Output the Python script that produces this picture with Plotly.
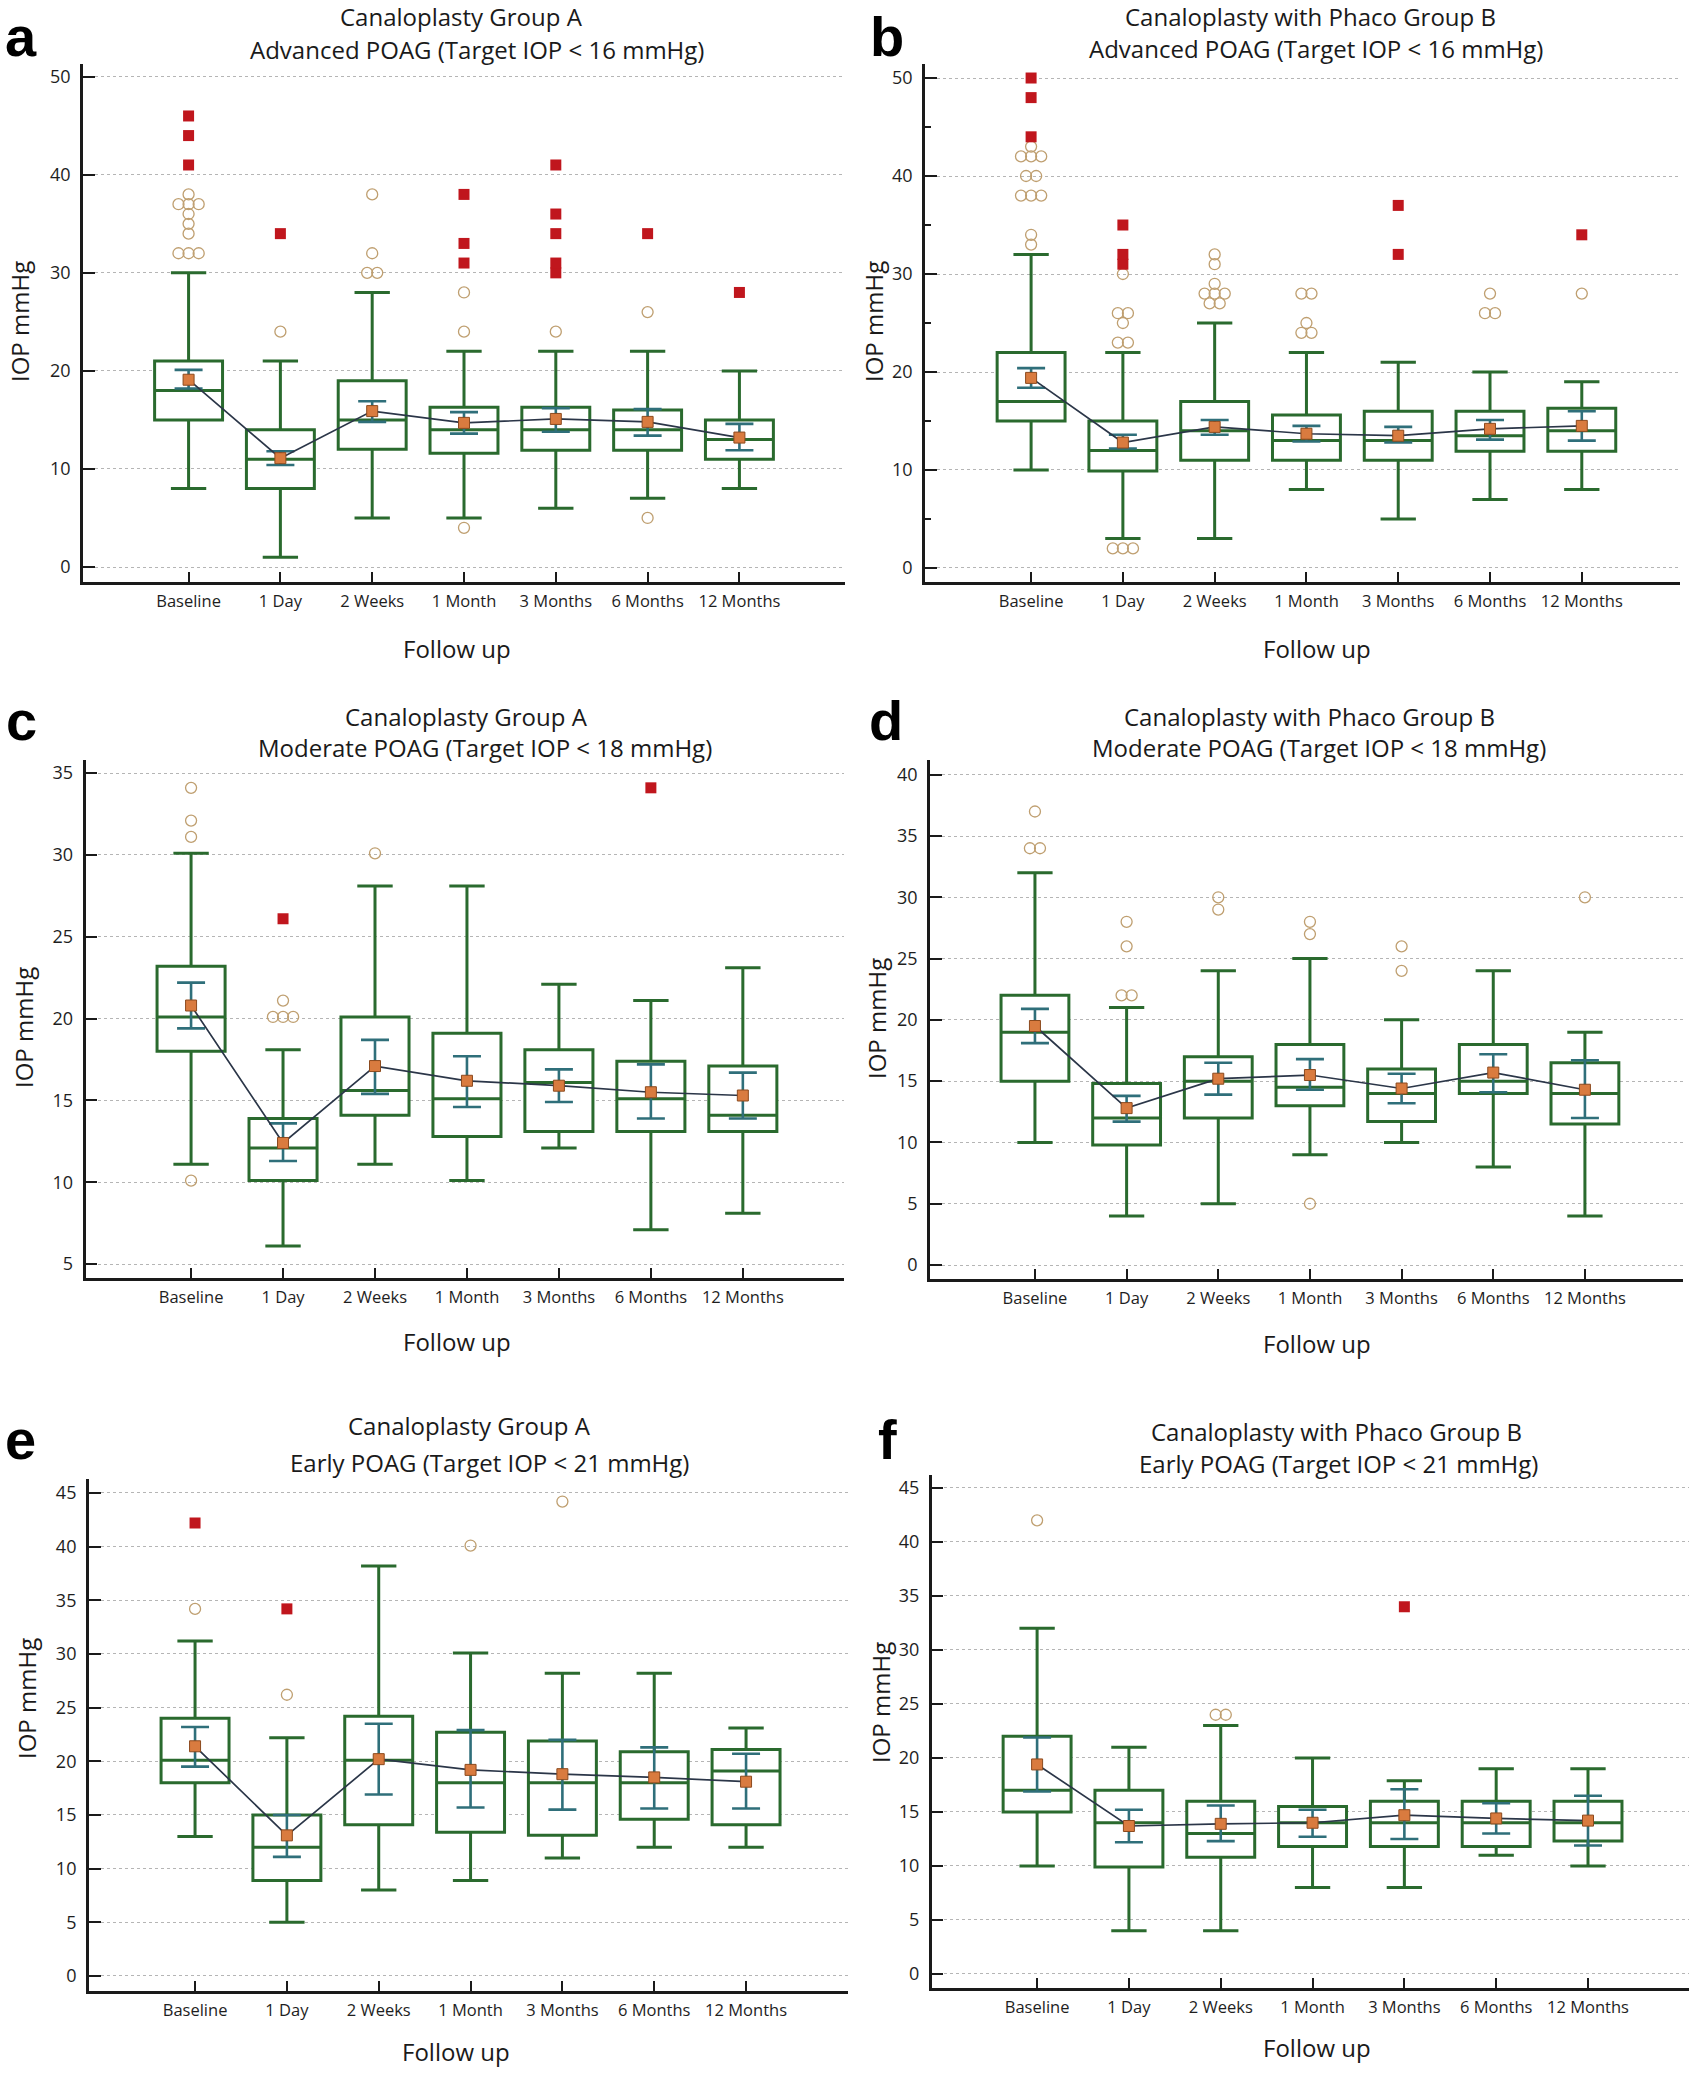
import plotly.graph_objects as go

W, H = 1701, 2077

CATS = ["Baseline", "1 Day", "2 Weeks", "1 Month", "3 Months", "6 Months", "12 Months"]

# ---- Panel a : Canaloplasty Group A, Advanced POAG ----
A_LO = [8, 1, 5, 5, 6, 7, 8]
A_Q1 = [15, 8, 12, 11.6, 11.9, 11.9, 11]
A_MED = [18, 11, 15, 14, 14, 14, 13]
A_Q3 = [21, 14, 19, 16.3, 16.3, 16, 15]
A_HI = [30, 21, 28, 22, 22, 22, 20]
A_MEAN = [19.1, 11.1, 15.9, 14.7, 15.1, 14.8, 13.2]
A_CI_LO = [18.2, 10.4, 14.8, 13.6, 13.8, 13.4, 11.9]
A_CI_HI = [20.1, 11.8, 16.9, 15.8, 16.2, 16.1, 14.6]
A_OUT = [[32, 32, 32, 34, 35, 36, 37, 37, 37, 38], [24], [30, 30, 32, 38], [4, 24, 28], [24], [5, 26], []]
A_FAR = [[41, 44, 46], [34], [], [31, 33, 38], [30, 31, 34, 36, 41], [34], [28]]

# ---- Panel b : Canaloplasty with Phaco Group B, Advanced POAG ----
B_LO = [10, 3, 3, 8, 5, 7, 8]
B_Q1 = [15, 9.9, 11, 11, 11, 11.9, 11.9]
B_MED = [17, 12, 14, 13, 13, 13.5, 14]
B_Q3 = [22, 15, 17, 15.6, 16, 16, 16.3]
B_HI = [32, 22, 25, 22, 21, 20, 19]
B_MEAN = [19.4, 12.8, 14.4, 13.7, 13.5, 14.2, 14.5]
B_CI_LO = [18.4, 12.2, 13.6, 12.9, 12.8, 13.1, 13.0]
B_CI_HI = [20.4, 13.6, 15.1, 14.5, 14.4, 15.1, 16.0]
B_OUT = [[33, 34, 38, 38, 38, 40, 40, 42, 42, 42, 43], [2, 2, 2, 23, 23, 25, 26, 26, 30],
         [27, 27, 28, 28, 28, 29, 31, 32], [24, 24, 25, 28, 28], [], [26, 26, 28], [28]]
B_FAR = [[44, 48, 50], [31, 32, 35], [], [], [32, 37], [], [34]]

# ---- Panel c : Canaloplasty Group A, Moderate POAG ----
C_LO = [11.1, 6.1, 11.1, 10.1, 12.1, 7.1, 8.1]
C_Q1 = [18.0, 10.1, 14.1, 12.8, 13.1, 13.1, 13.1]
C_MED = [20.1, 12.1, 15.6, 15.1, 16.1, 15.1, 14.1]
C_Q3 = [23.2, 13.9, 20.1, 19.1, 18.1, 17.4, 17.1]
C_HI = [30.1, 18.1, 28.1, 28.1, 22.1, 21.1, 23.1]
C_MEAN = [20.8, 12.4, 17.1, 16.2, 15.9, 15.5, 15.3]
C_CI_LO = [19.4, 11.3, 15.4, 14.6, 14.9, 13.9, 13.9]
C_CI_HI = [22.2, 13.6, 18.7, 17.7, 16.9, 17.2, 16.7]
C_OUT = [[10.1, 31.1, 32.1, 34.1], [20.1, 20.1, 20.1, 21.1], [30.1], [], [], [], []]
C_FAR = [[], [26.1], [], [], [], [34.1], []]

# ---- Panel d : Canaloplasty with Phaco Group B, Moderate POAG ----
D_LO = [10, 4, 5, 9, 10, 8, 4]
D_Q1 = [15, 9.8, 12, 13, 11.7, 14, 11.5]
D_MED = [19, 12, 15, 14.5, 14, 15, 14]
D_Q3 = [22, 14.8, 17, 18, 16, 18, 16.5]
D_HI = [32, 21, 24, 25, 20, 24, 19]
D_MEAN = [19.5, 12.8, 15.2, 15.5, 14.4, 15.7, 14.3]
D_CI_LO = [18.1, 11.7, 13.9, 14.3, 13.2, 14.1, 12.0]
D_CI_HI = [20.9, 13.8, 16.5, 16.8, 15.6, 17.2, 16.7]
D_OUT = [[34, 34, 37], [22, 22, 26, 28], [29, 30], [5, 27, 28], [24, 26], [], [30]]
D_FAR = [[], [], [], [], [], [], []]

# ---- Panel e : Canaloplasty Group A, Early POAG ----
E_LO = [13, 5, 8, 8.9, 11, 12, 12]
E_Q1 = [18, 8.9, 14.1, 13.4, 13.1, 14.6, 14.1]
E_MED = [20.1, 12, 20.1, 18, 18, 18, 19.1]
E_Q3 = [24, 15, 24.2, 22.7, 21.9, 20.9, 21.1]
E_HI = [31.2, 22.2, 38.2, 30.1, 28.2, 28.2, 23.1]
E_MEAN = [21.4, 13.1, 20.2, 19.2, 18.8, 18.5, 18.1]
E_CI_LO = [19.5, 11.1, 16.9, 15.7, 15.5, 15.6, 15.6]
E_CI_HI = [23.2, 15.0, 23.5, 22.9, 22.0, 21.3, 20.7]
E_OUT = [[34.2], [26.2], [], [40.1], [44.2], [], []]
E_FAR = [[42.2], [34.2], [], [], [], [], []]

# ---- Panel f : Canaloplasty with Phaco Group B, Early POAG ----
F_LO = [10, 4, 4, 8, 8, 11, 10]
F_Q1 = [15, 9.9, 10.8, 11.8, 11.8, 11.8, 12.3]
F_MED = [17, 14, 13, 14, 14, 14, 14]
F_Q3 = [22, 17, 16, 15.5, 16, 16, 16]
F_HI = [32, 21, 23, 20, 17.9, 19, 19]
F_MEAN = [19.4, 13.7, 13.9, 14.0, 14.7, 14.4, 14.2]
F_CI_LO = [16.9, 12.2, 12.3, 12.7, 12.5, 13.0, 11.9]
F_CI_HI = [21.9, 15.2, 15.6, 15.2, 17.1, 15.8, 16.5]
F_OUT = [[42], [], [24, 24], [], [], [], []]
F_FAR = [[], [], [], [], [34], [], []]

TITLES = {
    "a": ("Canaloplasty Group A", "Advanced POAG (Target IOP < 16 mmHg)"),
    "b": ("Canaloplasty with Phaco Group B", "Advanced POAG (Target IOP < 16 mmHg)"),
    "c": ("Canaloplasty Group A", "Moderate POAG (Target IOP < 18 mmHg)"),
    "d": ("Canaloplasty with Phaco Group B", "Moderate POAG (Target IOP < 18 mmHg)"),
    "e": ("Canaloplasty Group A", "Early POAG (Target IOP < 21 mmHg)"),
    "f": ("Canaloplasty with Phaco Group B", "Early POAG (Target IOP < 21 mmHg)"),
}

DATA = {
    "a": (A_LO, A_Q1, A_MED, A_Q3, A_HI, A_MEAN, A_CI_LO, A_CI_HI, A_OUT, A_FAR),
    "b": (B_LO, B_Q1, B_MED, B_Q3, B_HI, B_MEAN, B_CI_LO, B_CI_HI, B_OUT, B_FAR),
    "c": (C_LO, C_Q1, C_MED, C_Q3, C_HI, C_MEAN, C_CI_LO, C_CI_HI, C_OUT, C_FAR),
    "d": (D_LO, D_Q1, D_MED, D_Q3, D_HI, D_MEAN, D_CI_LO, D_CI_HI, D_OUT, D_FAR),
    "e": (E_LO, E_Q1, E_MED, E_Q3, E_HI, E_MEAN, E_CI_LO, E_CI_HI, E_OUT, E_FAR),
    "f": (F_LO, F_Q1, F_MED, F_Q3, F_HI, F_MEAN, F_CI_LO, F_CI_HI, F_OUT, F_FAR),
}

# layout geometry (page pixels) : plot x-span, y-span, axis ranges, dtick
GEOM = {
    "a": dict(xpx=(83, 845), ypx=(64, 582), xr=(-1.15, 7.15), yr=(-1.53, 51.3), dtick=10, minor=False),
    "b": dict(xpx=(925, 1680), ypx=(64, 582), xr=(-1.156, 7.07), yr=(-1.43, 51.43), dtick=10, minor=True),
    "c": dict(xpx=(85.5, 844), ypx=(760, 1278), xr=(-1.148, 7.1), yr=(4.15, 35.8), dtick=5, minor=False),
    "d": dict(xpx=(930, 1683), ypx=(760, 1279), xr=(-1.145, 7.07), yr=(-1.14, 41.2), dtick=5, minor=False),
    "e": dict(xpx=(88.8, 848), ypx=(1479, 1991), xr=(-1.157, 7.11), yr=(-1.4, 46.3), dtick=5, minor=False),
    "f": dict(xpx=(931.7, 1689), ypx=(1475, 1988), xr=(-1.148, 7.1), yr=(-1.3, 46.2), dtick=5, minor=False),
}
# title line centers, y-title, x-title, panel letter (page pixels)
TEXTPOS = {
    "a": dict(t1=(461, 16), t2=(477, 50), yt=(19, 322), xt=(457, 648), lab=(3, 36)),
    "b": dict(t1=(1310, 16), t2=(1316, 48), yt=(873, 322), xt=(1317, 648), lab=(868, 36)),
    "c": dict(t1=(466, 716), t2=(485, 747), yt=(23, 1028), xt=(457, 1341), lab=(4, 721)),
    "d": dict(t1=(1309, 716), t2=(1319, 748), yt=(876, 1019), xt=(1317, 1343), lab=(867, 721)),
    "e": dict(t1=(469, 1425), t2=(489, 1462), yt=(26, 1699), xt=(456, 2051), lab=(3, 1439)),
    "f": dict(t1=(1336, 1431), t2=(1338, 1463), yt=(880, 1703), xt=(1317, 2047), lab=(876, 1439)),
}

GREEN = "#2a6a2e"
TEAL = "#2f6f7a"
ORANGE = "#d97b3f"
ORANGE_EDGE = "#8c4a1e"
NAVY = "#2b3648"
TAN = "#bf9f70"
RED = "#c0161d"
FONT = "Open Sans"


def X(px):
    return px / W


def Y(px):
    return 1 - px / H


def spread(groups, step=0.11):
    xs, ys = [], []
    for i, vals in enumerate(groups):
        counts = {}
        for v in vals:
            counts[v] = counts.get(v, 0) + 1
        for v, n in counts.items():
            for k in range(n):
                xs.append(i + (k - (n - 1) / 2) * step)
                ys.append(v)
    return xs, ys


fig = go.Figure()
annotations = []
layout_axes = {}
pos = list(range(len(CATS)))

for idx, key in enumerate(["a", "b", "c", "d", "e", "f"]):
    n = idx + 1
    xa = "x" if n == 1 else f"x{n}"
    ya = "y" if n == 1 else f"y{n}"
    lo, q1, med, q3, hi, mean, cil, cih, out, far = DATA[key]
    g = GEOM[key]

    fig.add_trace(go.Box(
        x=pos, q1=q1, median=med, q3=q3, lowerfence=lo, upperfence=hi,
        boxpoints=False, width=0.74, whiskerwidth=0.52,
        fillcolor="white", line=dict(color=GREEN, width=3),
        xaxis=xa, yaxis=ya, showlegend=False, hoverinfo="skip"))

    fig.add_trace(go.Scatter(
        x=pos, y=mean, mode="markers", marker=dict(size=1, opacity=0),
        error_y=dict(type="data", symmetric=False,
                     array=[h - m for h, m in zip(cih, mean)],
                     arrayminus=[m - l for m, l in zip(mean, cil)],
                     color=TEAL, thickness=2.6, width=14),
        xaxis=xa, yaxis=ya, showlegend=False, hoverinfo="skip"))

    ox, oy = spread(out)
    fig.add_trace(go.Scatter(
        x=ox, y=oy, mode="markers",
        marker=dict(symbol="circle-open", size=11, color=TAN, line=dict(width=1.3)),
        xaxis=xa, yaxis=ya, showlegend=False, hoverinfo="skip"))

    fx, fy = spread(far)
    fig.add_trace(go.Scatter(
        x=fx, y=fy, mode="markers",
        marker=dict(symbol="square", size=11, color=RED, line=dict(width=0)),
        xaxis=xa, yaxis=ya, showlegend=False, hoverinfo="skip"))

    fig.add_trace(go.Scatter(
        x=pos, y=mean, mode="lines+markers",
        line=dict(color=NAVY, width=1.7),
        marker=dict(symbol="square", size=11, color=ORANGE, line=dict(color=ORANGE_EDGE, width=1)),
        xaxis=xa, yaxis=ya, showlegend=False, hoverinfo="skip"))

    xname = "xaxis" if n == 1 else f"xaxis{n}"
    yname = "yaxis" if n == 1 else f"yaxis{n}"
    layout_axes[xname] = dict(
        domain=[X(g["xpx"][0]), X(g["xpx"][1])], range=list(g["xr"]), anchor=ya,
        tickmode="array", tickvals=pos, ticktext=CATS,
        showline=True, linecolor="#1a1a1a", linewidth=2.5, mirror=False,
        ticks="inside", ticklen=10, tickwidth=1.5, tickcolor="#1a1a1a",
        showgrid=False, zeroline=False, ticklabelstandoff=2,
        tickfont=dict(family=FONT, size=16.5, color="#1e1e1e"))
    yax = dict(
        domain=[Y(g["ypx"][1]), Y(g["ypx"][0])], range=list(g["yr"]), anchor=xa,
        tick0=0, dtick=g["dtick"],
        showline=True, linecolor="#1a1a1a", linewidth=2.5,
        ticks="inside", ticklen=12, tickwidth=1.5, tickcolor="#1a1a1a",
        showgrid=True, gridcolor="#b5b5b5", griddash="dot", gridwidth=1,
        zeroline=False, ticklabelstandoff=6,
        tickfont=dict(family=FONT, size=18, color="#1e1e1e"))
    if g["minor"]:
        yax["minor"] = dict(dtick=5, ticks="inside", ticklen=6, tickcolor="#1a1a1a", showgrid=False)
    layout_axes[yname] = yax

    tp = TEXTPOS[key]
    t1, t2 = TITLES[key]
    for txt, p in ((t1, tp["t1"]), (t2, tp["t2"])):
        annotations.append(dict(text=txt, x=X(p[0]), y=Y(p[1]), xref="paper", yref="paper",
                                xanchor="center", yanchor="middle", showarrow=False,
                                font=dict(family=FONT, size=24, color="#1a1a1a")))
    annotations.append(dict(text="IOP mmHg", x=X(tp["yt"][0]), y=Y(tp["yt"][1]), xref="paper", yref="paper",
                            xanchor="center", yanchor="middle", showarrow=False, textangle=-90,
                            font=dict(family=FONT, size=24, color="#1a1a1a")))
    annotations.append(dict(text="Follow up", x=X(tp["xt"][0]), y=Y(tp["xt"][1]), xref="paper", yref="paper",
                            xanchor="center", yanchor="middle", showarrow=False,
                            font=dict(family=FONT, size=24, color="#1a1a1a")))
    annotations.append(dict(text="<b>%s</b>" % key, x=X(tp["lab"][0]), y=Y(tp["lab"][1]), xref="paper",
                            yref="paper", xanchor="left", yanchor="middle", showarrow=False,
                            font=dict(family="Liberation Sans", size=56, color="#000")))

fig.update_layout(
    width=W, height=H, margin=dict(l=0, r=0, t=0, b=0),
    paper_bgcolor="white", plot_bgcolor="white",
    annotations=annotations, **layout_axes)

fig.write_html("out.html", config={"displayModeBar": False},
               post_script="document.body.style.margin='0px';")
